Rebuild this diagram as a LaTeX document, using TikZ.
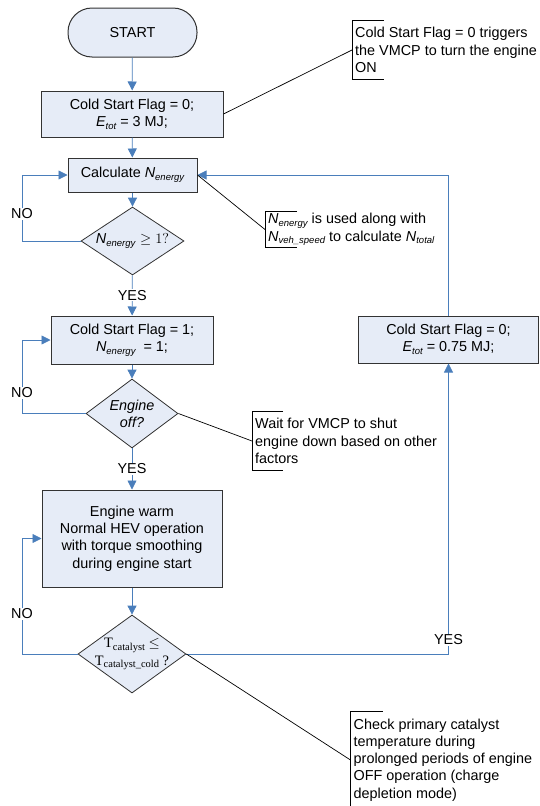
\documentclass[tikz,border=0pt]{standalone}
\usepackage{fontspec}
\setmainfont{Liberation Sans}
\newfontfamily\timesfont{Liberation Serif}
\usetikzlibrary{shapes.geometric,arrows.meta}
\definecolor{flowblue}{HTML}{4A7EBB}
\definecolor{boxfill}{HTML}{E6ECF7}
\definecolor{boxline}{HTML}{333333}
% lowered small subscripts for variable names
\newcommand\lowsub[1]{\raisebox{-0.35ex}{\fontsize{9.5}{10}\selectfont #1}}
\newcommand\tsub[1]{\raisebox{-0.35ex}{\fontsize{10.5}{11}\selectfont #1}}

\begin{document}
\begin{tikzpicture}[x=1pt,y=-1pt,
  every node/.style={font=\fontsize{14.4}{17.2}\selectfont},
  procbox/.style={draw=boxline,fill=boxfill,line width=1pt,align=center,inner sep=0pt},
  termbox/.style={procbox,rounded corners=24pt},
  decision/.style={draw=boxline,fill=boxfill,line width=0.8pt,diamond,inner sep=0pt},
  flow/.style={draw=flowblue,line width=0.8pt,-{Triangle[width=9pt,length=9pt]}},
  tag/.style={fill=white,inner sep=1pt},
  note/.style={align=left,inner xsep=3pt,inner ysep=0pt,anchor=west},
  bracket/.style={draw=black,line width=0.7pt},
  leader/.style={draw=black,line width=0.7pt}]
\useasboundingbox (0,0) rectangle (540,806);

% return rails
\coordinate (railL) at (22,0);

% main column
\node[termbox,minimum width=129,minimum height=49] (start) at (132.5,32.5) {START};
\node[procbox,minimum width=182,minimum height=46] (init) at (132,114)
  {Cold Start Flag = 0;\\\textit{E\lowsub{tot}} = 3 MJ;};
\node[procbox,minimum width=129,minimum height=34] (calc) at (132.5,175)
  {Calculate \textit{N\lowsub{energy}}};
\node[decision,minimum width=103,minimum height=68] (chk1) at (132.5,241) {};
\node at (chk1) {\textit{N\lowsub{energy}}\,\,$\geq 1?$};
\node[procbox,minimum width=162,minimum height=48] (flag1) at (132,340)
  {Cold Start Flag = 1;\\\textit{N\lowsub{energy}}\ \ = 1;};
\node[decision,minimum width=92,minimum height=69] (off) at (132,413.5) {};
\node[align=center] at (off) {\textit{Engine}\\\textit{off?}};
\node[procbox,minimum width=180,minimum height=97] (warm) at (132,538.5)
  {Engine warm\\Normal HEV operation\\with torque smoothing\\during engine start};
\node[decision,minimum width=108,minimum height=78] (cat) at (132,654) {};
\node[align=center] at (cat)
  {\timesfont T\tsub{catalyst} $\leq$\\\timesfont T\tsub{catalyst\_cold} ?};

% reset box on the right
\node[procbox,minimum width=180,minimum height=47] (reset) at (448.5,339.5)
  {Cold Start Flag = 0;\\\textit{E\lowsub{tot}} = 0.75 MJ;};

% forward flow
\draw[flow] (start) -- (init);
\draw[flow] (init) -- (calc);
\draw[flow] (calc) -- (chk1);
\draw[flow] (chk1) -- node[tag] {YES} (flag1);
\draw[flow] (flag1) -- (off);
\draw[flow] (off) -- node[tag] {YES} (warm);
\draw[flow] (warm) -- (cat);

% NO loops
\draw[flow] (chk1.west) -- (chk1.west -| railL) |- (calc.west);
\node[tag] at (22,214) {NO};
\draw[flow] (off.west) -- (off.west -| railL) |- (flag1.west);
\node[tag] at (22,393) {NO};
\draw[flow] (cat.west) -- (cat.west -| railL) |- (warm.west);
\node[tag] at (22,614) {NO};

% YES branch back to the top
\draw[flow] (cat.east) -| (reset.south);
\node[tag] at (448.5,640) {YES};
\draw[flow] (reset.north) |- (calc.east);

% annotations
\node[note,minimum height=58] (n1) at (352,50)
  {Cold Start Flag = 0 triggers\\the VMCP to turn the engine\\ON};
\draw[bracket] ([xshift=32]n1.north west) -- (n1.north west) -- (n1.south west) -- ([xshift=32]n1.south west);
\draw[leader] (init.east) -- (n1.west);

\node[note,minimum height=35] (n2) at (265,229.5)
  {\textit{N\lowsub{energy}} is used along with\\\textit{N\lowsub{veh\_speed}} to calculate \textit{N\lowsub{total}}};
\draw[bracket] ([xshift=32]n2.north west) -- (n2.north west) -- (n2.south west) -- ([xshift=32]n2.south west);
\draw[leader] (calc.east) -- (n2.west);

\node[note,minimum height=58] (n3) at (252,441)
  {Wait for VMCP to shut\\engine down based on other\\factors};
\draw[bracket] ([xshift=31]n3.north west) -- (n3.north west) -- (n3.south west) -- ([xshift=31]n3.south west);
\draw[leader] (off.east) -- (n3.west);

\node[note,minimum height=96] (n4) at (350.5,760)
  {Check primary catalyst\\temperature during\\prolonged periods of engine\\OFF operation (charge\\depletion mode)};
\draw[bracket] ([xshift=32]n4.north west) -- (n4.north west) -- (n4.south west) -- ([xshift=32]n4.south west);
\draw[leader] (cat.east) -- (n4.west);
\end{tikzpicture}
\end{document}
